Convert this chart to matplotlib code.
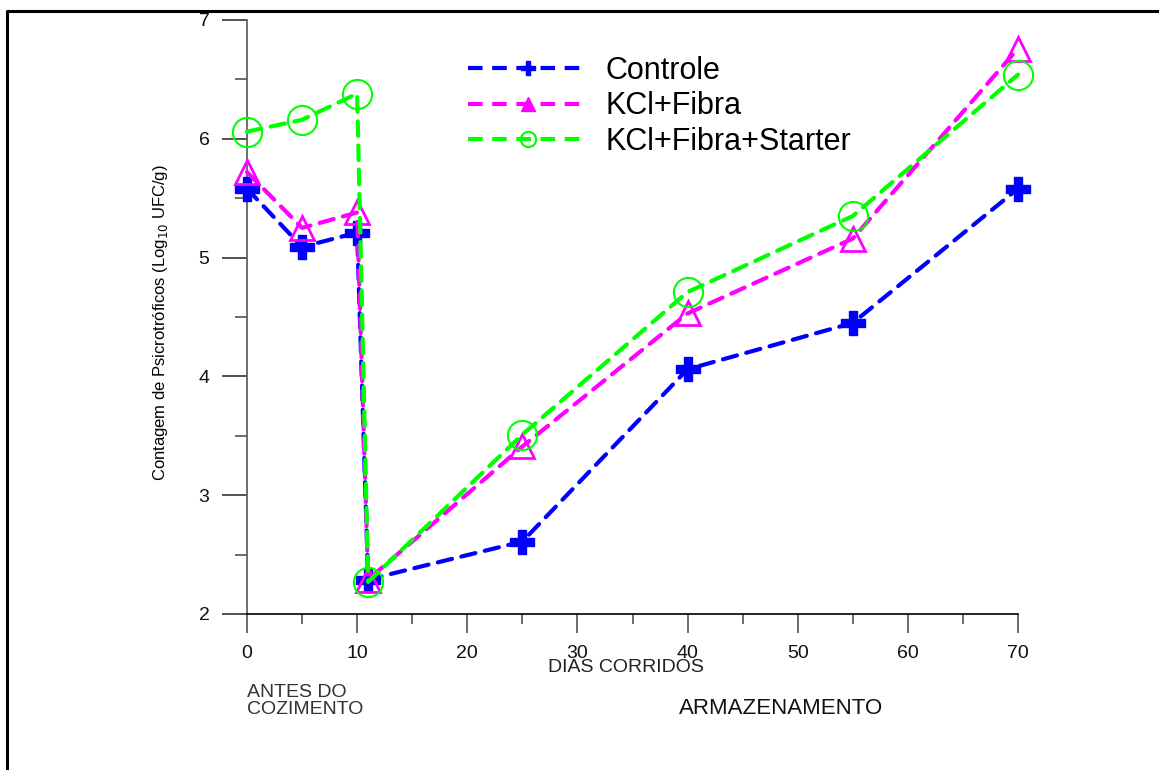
import matplotlib
matplotlib.use("Agg")
from matplotlib import pyplot as plt
from matplotlib.lines import Line2D
from matplotlib.ticker import MultipleLocator

plt.rcParams["font.family"] = ["Liberation Sans", "DejaVu Sans"]

dias = [0, 5, 10, 11, 25, 40, 55, 70]
controle = [5.58, 5.09, 5.21, 2.29, 2.61, 4.06, 4.45, 5.58]
kcl_fibra = [5.72, 5.25, 5.38, 2.29, 3.41, 4.53, 5.16, 6.76]
kcl_fibra_starter = [6.06, 6.16, 6.38, 2.27, 3.51, 4.71, 5.35, 6.54]

series_names = ["Controle", "KCl+Fibra", "KCl+Fibra+Starter"]


def main():
    fig = plt.figure(figsize=(11.59, 7.70), dpi=100)
    ax = fig.add_axes([247 / 1159, 1 - 614 / 770, 771 / 1159, 594 / 770])

    dash = (3.5, 2.3)
    ax.plot(dias, controle, color="#0000ff", lw=3, dashes=dash, dash_capstyle="round",
            marker="P", ms=17, mec="#0000ff", mfc="#0000ff", label=series_names[0],
            zorder=3, clip_on=False)
    ax.plot(dias, kcl_fibra, color="#ff00ff", lw=3, dashes=dash, dash_capstyle="round",
            marker="^", ms=17, mfc="none", mec="#ff00ff", mew=2, label=series_names[1],
            zorder=4, clip_on=False)
    ax.plot(dias, kcl_fibra_starter, color="#00ff00", lw=3, dashes=dash, dash_capstyle="round",
            marker="o", ms=21, mfc="none", mec="#00ff00", mew=1.5, label=series_names[2],
            zorder=5, clip_on=False)

    ax.set_xlim(0, 70)
    ax.set_ylim(2, 7)
    ax.xaxis.set_major_locator(MultipleLocator(10))
    ax.xaxis.set_minor_locator(MultipleLocator(5))
    ax.yaxis.set_major_locator(MultipleLocator(1))
    ax.yaxis.set_minor_locator(MultipleLocator(0.5))
    for s in ["top", "right"]:
        ax.spines[s].set_visible(False)
    for s in ["left", "bottom"]:
        ax.spines[s].set_linewidth(1.2)
    ax.spines["left"].set_color("#555555")
    ax.spines["bottom"].set_color("#000000")
    ax.tick_params(axis="y", which="major", direction="out", length=18, width=1.1,
                   color="#222222", pad=9, labelsize=14)
    ax.tick_params(axis="y", which="minor", direction="out", length=9, width=1.1, color="#444444")
    ax.tick_params(axis="x", which="major", direction="out", length=14, width=1.1,
                   color="#444444", pad=8, labelsize=14)
    ax.tick_params(axis="x", which="minor", direction="out", length=7, width=1.1, color="#444444")
    ax.patch.set_alpha(0)
    for lab in ax.get_xticklabels() + ax.get_yticklabels():
        lab.set_color("#111111")

    handles = [
        Line2D([], [], color="#0000ff", lw=3, dashes=dash, marker="P", ms=10, mfc="#0000ff", mec="#0000ff"),
        Line2D([], [], color="#ff00ff", lw=3, dashes=dash, marker="^", ms=10, mfc="#ff00ff", mec="#ff00ff"),
        Line2D([], [], color="#00ff00", lw=3, dashes=dash, marker="o", ms=11, mfc="none", mec="#00ff00", mew=1.5),
    ]
    fig.legend(handles, series_names, loc="upper left", bbox_to_anchor=(468 / 1159, 1 - 56 / 770),
               frameon=False, fontsize=22, handlelength=3.9, handletextpad=0.6,
               labelspacing=0.18, borderpad=0, borderaxespad=0)

    fig.text(161 / 1159, 1 - 323 / 770, "Contagem de Psicrotróficos (Log$_{10}$ UFC/g)",
             rotation=90, ha="center", va="center", fontsize=12)
    fig.text(626 / 1159, 1 - 668 / 770, "DIAS CORRIDOS", ha="center", va="center",
             fontsize=14, color="#222222")
    fig.text(247 / 1159, 1 - 701 / 770, "ANTES DO\nCOZIMENTO", ha="left", va="center",
             fontsize=14, color="#333333", linespacing=1.0)
    fig.text(781 / 1159, 1 - 708 / 770, "ARMAZENAMENTO", ha="center", va="center",
             fontsize=16, color="#111111")

    # moldura da figura (apenas topo e esquerda visiveis)
    fig.add_artist(Line2D([7 / 1159, 7 / 1159, 1.0], [0.0, 1 - 11 / 770, 1 - 11 / 770],
                          transform=fig.transFigure, color="black", lw=2.2))

    fig.savefig("out.png", dpi=100)


if __name__ == "__main__":
    main()
